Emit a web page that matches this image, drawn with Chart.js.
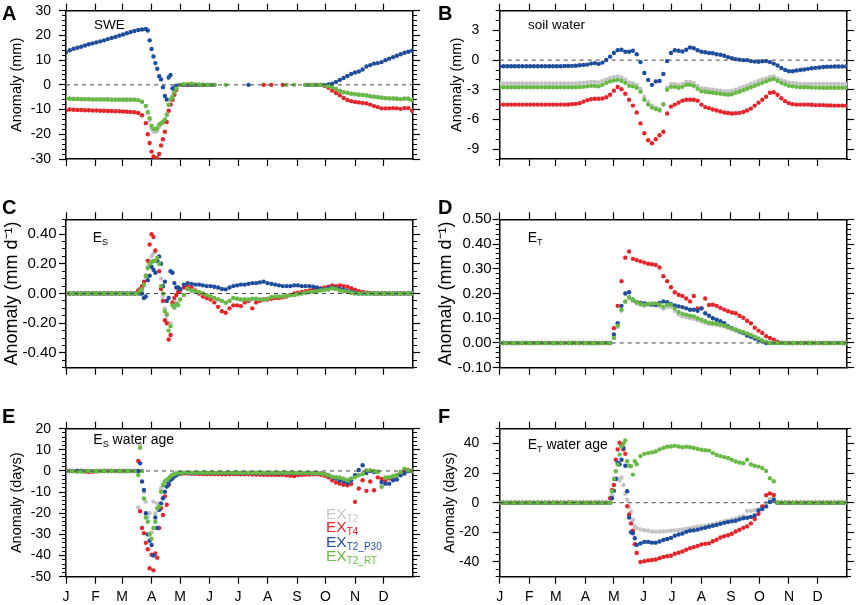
<!DOCTYPE html>
<html>
<head>
<meta charset="utf-8">
<script src="https://cdn.jsdelivr.net/npm/chart.js@4.4.1/dist/chart.umd.min.js"></script>
<style>
  html, body { margin: 0; padding: 0; background: #fff; }
  #wrap { position: relative; width: 858px; height: 605px; overflow: hidden;
          font-family: 'Liberation Sans', Arial, Helvetica, sans-serif; }
  canvas { position: absolute; }
  .lbl { position: absolute; line-height: 1; white-space: nowrap; color: #000; }
  .letter { font-weight: bold; font-size: 20px; }
  .ttl { font-size: 14px; }
  .ttl .sub { font-size: 9px; position: relative; top: 3px; }
  .leg { font-size: 15.5px; }
  .leg .sub { font-size: 10px; position: relative; top: 3px; }
</style>
</head>
<body>
<div id="wrap">
  <canvas id="cA" width="429" height="195" style="left:0;top:0"></canvas>
  <canvas id="cB" width="429" height="195" style="left:429px;top:0"></canvas>
  <canvas id="cC" width="429" height="205" style="left:0;top:195px"></canvas>
  <canvas id="cD" width="429" height="205" style="left:429px;top:195px"></canvas>
  <canvas id="cE" width="429" height="205" style="left:0;top:400px"></canvas>
  <canvas id="cF" width="429" height="205" style="left:429px;top:400px"></canvas>

  <div class="lbl letter" style="left:2px;top:3.4px">A</div>
  <div class="lbl letter" style="left:438px;top:3.4px">B</div>
  <div class="lbl letter" style="left:2px;top:197.4px">C</div>
  <div class="lbl letter" style="left:438px;top:197.4px">D</div>
  <div class="lbl letter" style="left:2px;top:405.7px">E</div>
  <div class="lbl letter" style="left:438px;top:406px">F</div>

  <div class="lbl ttl" style="left:94px;top:17.9px;font-size:13.5px">SWE</div>
  <div class="lbl ttl" style="left:528px;top:17.9px;font-size:13.5px">soil water</div>
  <div class="lbl ttl" style="left:92.7px;top:229.9px">E<span class="sub">S</span></div>
  <div class="lbl ttl" style="left:527.7px;top:229.9px">E<span class="sub">T</span></div>
  <div class="lbl ttl" style="left:93.3px;top:431.5px">E<span class="sub">S</span> water age</div>
  <div class="lbl ttl" style="left:527.7px;top:436.5px">E<span class="sub">T</span> water age</div>

  <div class="lbl leg" style="left:326px;top:505.9px;color:#c6c6c6">EX<span class="sub">T2</span></div>
  <div class="lbl leg" style="left:326px;top:519.2px;color:#e3262b">EX<span class="sub">T4</span></div>
  <div class="lbl leg" style="left:326px;top:533.6px;color:#1f4d9d">EX<span class="sub">T2_P30</span></div>
  <div class="lbl leg" style="left:326px;top:547.9px;color:#68b945">EX<span class="sub">T2_RT</span></div>
</div>

<script>
// day of year for every plotted value (one value every 4 days)
const days = [
  0, 4, 8, 12, 16, 20, 24, 28, 32, 36,
  40, 44, 48, 52, 56, 60, 64, 68, 72, 76,
  80, 84, 88, 92, 96, 100, 104, 108, 112, 116,
  120, 124, 128, 132, 136, 140, 144, 148, 152, 156,
  160, 164, 168, 172, 176, 180, 184, 188, 192, 196,
  200, 204, 208, 212, 216, 220, 224, 228, 232, 236,
  240, 244, 248, 252, 256, 260, 264, 268, 272, 276,
  280, 284, 288, 292, 296, 300, 304, 308, 312, 316,
  320, 324, 328, 332, 336, 340, 344, 348, 352, 356,
  360, 364
];
const monthStarts = [0, 31, 59, 90, 120, 151, 181, 212, 243, 273, 304, 334];
const monthLabels = ['J', 'F', 'M', 'A', 'M', 'J', 'J', 'A', 'S', 'O', 'N', 'D'];

// ---- A: SWE (mm)
const aTicks = [-30, -20, -10, 0, 10, 20, 30];
const aGray = [
  -5.4, -5.5, -5.6, -5.6, -5.7, -5.7, -5.7, -5.8, -5.8, -5.8,
  -5.8, -5.8, -5.9, -5.9, -5.9, -5.9, -5.9, -5.9, -6.0, -6.2,
  -6.9, -8.8, -14.2, -18.8, -18.5, -15.8, -14.2, -8.3, -5.0, -1.6,
  0, 0.2, 0.2, 0.4, 0.2, 0.1, 0.1, 0, 0, 0,
  null, null, null, null, null, null, null, null, null, null,
  null, null, null, null, null, null, null, null, null, null,
  null, null, null, 0, 0, 0, 0, 0, -0.2, -0.6,
  -1.0, -1.7, -2.4, -2.9, -3.2, -3.5, -3.7, -3.9, -4.0, -4.2,
  -4.5, -4.7, -4.9, -5.1, -5.3, -5.4, -5.4, -5.5, -5.7, -5.5,
  -5.5, -6.1
];
const aRed = [
  -10.3, -10.0, -10.1, -10.2, -10.2, -10.3, -10.3, -10.4, -10.4, -10.5,
  -10.5, -10.6, -10.6, -10.7, -10.7, -10.8, -10.9, -11.0, -11.1, -11.4,
  -12.3, -15.5, -23.5, -29.0, -29.7, -24.5, -19.0, -10.5, -6.0, -2.0,
  0, 0, 0, 0, 0, 0, 0, 0, 0, 0,
  null, null, null, null, null, null, null, null, null, null,
  null, null, 0, null, 0, null, null, 0, null, null,
  null, null, null, 0, 0, 0, 0, 0, -0.4, -1.2,
  -2.3, -3.3, -4.2, -5.3, -6.1, -6.6, -6.9, -7.1, -7.3, -7.5,
  -8.0, -8.6, -9.0, -9.5, -9.5, -9.5, -9.4, -9.5, -9.7, -9.4,
  -9.4, -10.5
];
const aBlue = [
  13.2, 14.0, 14.6, 15.0, 15.4, 15.9, 16.4, 16.8, 17.2, 17.6,
  18.0, 18.5, 19.0, 19.4, 19.9, 20.4, 20.9, 21.4, 21.8, 22.2,
  22.4, 22.6, 18.0, 11.5, 6.5, 2.2, -4.5, 3.0, -1.5, -0.3,
  0, 0, 0, 0, 0, 0, 0, 0, 0, 0,
  null, null, null, null, null, null, null, null, 0, null,
  null, null, null, null, null, null, null, null, null, null,
  null, null, null, 0, 0, 0, 0, 0, 0, 0.2,
  0.5, 1.2, 2.0, 2.8, 3.6, 4.4, 5.0, 5.4, 6.2, 7.4,
  8.0, 8.6, 8.8, 9.2, 10.0, 10.6, 11.2, 11.8, 12.4, 13.0,
  13.4, 13.8
];
const aGreen = [
  -5.5, -5.6, -5.7, -5.7, -5.8, -5.8, -5.8, -5.9, -5.9, -5.9,
  -5.9, -5.9, -6.0, -6.0, -6.0, -6.0, -6.0, -6.0, -6.0, -6.2,
  -6.8, -8.5, -13.5, -17.8, -17.5, -15.5, -14.0, -8.0, -4.8, -1.5,
  0, 0.3, 0.3, 0.5, 0.2, 0.2, 0.1, 0, 0, 0,
  null, null, 0, null, null, null, null, null, null, null,
  null, null, null, null, null, null, null, null, 0, null,
  0, null, null, 0, 0, 0, 0, 0, -0.2, -0.6,
  -1.0, -1.7, -2.5, -3.0, -3.3, -3.6, -3.8, -4.0, -4.1, -4.3,
  -4.6, -4.8, -5.0, -5.2, -5.4, -5.5, -5.5, -5.6, -5.8, -5.6,
  -5.6, -6.2
];
const aExtraDays = [86, 90, 94, 98, 102, 106, 110, 114];
const aGrayX = [-11.5, -17.5, -19, -17, -15.3, -12.5, -6, -3.2];
const aRedX = [-20, -27, -29.7, -28, -22, -15, -8, -4];
const aBlueX = [22.0, 14.5, 8.8, 3.5, -1.0, -5.9, 4.0, -1.2];
const aGreenX = [-11, -16.5, -18, -16, -15, -12, -5.9, -3];

// ---- B: soil water (mm)
const bTicks = [-9, -6, -3, 0, 3];
const bGray = [
  -2.35, -2.35, -2.35, -2.35, -2.35, -2.35, -2.35, -2.35, -2.35, -2.35,
  -2.35, -2.35, -2.35, -2.35, -2.35, -2.35, -2.35, -2.35, -2.35, -2.35,
  -2.35, -2.3, -2.3, -2.25, -2.2, -2.2, -2.25, -2.1, -1.95, -1.8,
  -1.7, -1.65, -1.75, -1.95, -2.25, -2.35, -2.5, -2.9, -3.7, -4.2,
  -4.6, -4.8, -4.95, -4.4, -2.8, -2.4, -2.4, -2.5, -2.4, -2.2,
  -2.2, -2.3, -2.6, -2.85, -2.9, -2.95, -3.0, -3.05, -3.1, -3.15,
  -3.15, -3.1, -3.0, -2.85, -2.7, -2.55, -2.4, -2.25, -2.1, -1.95,
  -1.85, -1.7, -1.65, -1.85, -2.0, -2.15, -2.25, -2.3, -2.35, -2.4,
  -2.4, -2.4, -2.4, -2.4, -2.4, -2.4, -2.4, -2.4, -2.4, -2.4,
  -2.4, -2.4
];
const bRed = [
  -4.5, -4.5, -4.5, -4.5, -4.5, -4.5, -4.5, -4.5, -4.5, -4.5,
  -4.5, -4.5, -4.5, -4.5, -4.5, -4.5, -4.5, -4.5, -4.48, -4.45,
  -4.42, -4.35, -4.2, -4.05, -3.95, -3.9, -3.9, -3.88, -3.75, -3.5,
  -3.1, -2.72, -2.95, -3.4, -4.0, -4.6, -5.3, -6.4, -7.4, -8.1,
  -8.4, -8.0, -7.6, -7.25, -5.4, -4.7, -4.5, -4.3, -4.1, -4.0,
  -4.0, -4.0, -4.1, -4.5, -4.75, -4.85, -5.0, -5.1, -5.2, -5.3,
  -5.35, -5.4, -5.38, -5.33, -5.25, -5.1, -4.9, -4.6, -4.3, -4.0,
  -3.7, -3.3, -3.25, -3.5, -3.85, -4.15, -4.35, -4.45, -4.5, -4.5,
  -4.5, -4.5, -4.52, -4.55, -4.55, -4.55, -4.58, -4.58, -4.6, -4.6,
  -4.6, -4.6
];
const bBlue = [
  -0.62, -0.62, -0.62, -0.62, -0.62, -0.62, -0.62, -0.62, -0.62, -0.62,
  -0.62, -0.62, -0.62, -0.62, -0.62, -0.62, -0.62, -0.60, -0.60, -0.58,
  -0.57, -0.52, -0.48, -0.45, -0.35, -0.30, -0.38, -0.25, 0.02, 0.35,
  0.72, 1.0, 1.05, 0.85, 0.85, 0.95, 0.6, -0.2, -1.3, -2.0,
  -2.5, -2.15, -2.1, -1.4, -0.1, 0.72, 1.0, 0.95, 0.87, 1.05,
  1.28, 1.2, 1.0, 0.85, 0.8, 0.72, 0.7, 0.6, 0.55, 0.45,
  0.3, 0.2, 0.1, 0.05, 0.0, 0.0, -0.1, -0.15, -0.17, -0.12,
  -0.1, -0.2, -0.35, -0.55, -0.8, -1.0, -1.12, -1.12, -1.05, -1.0,
  -0.95, -0.88, -0.82, -0.78, -0.74, -0.7, -0.67, -0.66, -0.65, -0.64,
  -0.64, -0.64
];
const bGreen = [
  -2.75, -2.75, -2.75, -2.75, -2.75, -2.75, -2.75, -2.75, -2.75, -2.75,
  -2.75, -2.75, -2.75, -2.75, -2.75, -2.75, -2.75, -2.75, -2.75, -2.75,
  -2.75, -2.72, -2.7, -2.65, -2.6, -2.62, -2.65, -2.5, -2.3, -2.15,
  -2.05, -2.0, -2.1, -2.3, -2.6, -2.65, -2.8, -3.2, -4.0, -4.5,
  -4.8, -4.95, -5.1, -4.5, -3.0, -2.7, -2.7, -2.8, -2.7, -2.5,
  -2.5, -2.6, -2.9, -3.15, -3.2, -3.25, -3.3, -3.35, -3.4, -3.45,
  -3.5, -3.45, -3.3, -3.2, -3.05, -2.9, -2.75, -2.6, -2.45, -2.3,
  -2.15, -2.0, -1.9, -2.1, -2.3, -2.45, -2.6, -2.65, -2.7, -2.75,
  -2.75, -2.75, -2.78, -2.78, -2.8, -2.8, -2.8, -2.8, -2.8, -2.8,
  -2.8, -2.8
];

// ---- C: soil evaporation (mm d-1)
const cTicks = [-0.4, -0.2, 0, 0.2, 0.4];
const cGray = [
  0, 0, 0, 0, 0, 0, 0, 0, 0, 0,
  0, 0, 0, 0, 0, 0, 0, 0, 0, 0,
  0.03, 0.11, 0.22, 0.27, 0.24, 0.1, -0.1, -0.2, -0.08, -0.06,
  -0.04, -0.01, 0.03, 0.02, 0.015, 0.01, 0.0, -0.01, -0.02, -0.03,
  -0.04, -0.05, -0.06, -0.05, -0.03, -0.035, -0.04, -0.04, -0.04, -0.035,
  -0.035, -0.04, -0.04, -0.035, -0.025, -0.02, -0.02, -0.02, -0.015, -0.012,
  -0.01, -0.005, 0.0, 0.005, 0.01, 0.012, 0.015, 0.02, 0.025, 0.027,
  0.035, 0.03, 0.02, 0.015, 0.01, 0.005, 0, 0, 0, 0,
  0, 0, 0, 0, 0, 0, 0, 0, 0, 0,
  0, 0
];
const cRed = [
  0, 0, 0, 0, 0, 0, 0, 0, 0, 0,
  0, 0, 0, 0, 0, 0, 0, 0, 0, 0.02,
  0.05, 0.12, 0.33, 0.38, 0.22, 0.03, -0.18, -0.31, -0.06, -0.01,
  0.02, 0.04, 0.05, 0.04, 0.02, 0.0, -0.02, -0.03, -0.04, -0.06,
  -0.09, -0.12, -0.13, -0.1, -0.08, -0.08, -0.085, -0.06, -0.05, -0.1,
  -0.06, -0.05, -0.04, -0.04, -0.035, -0.03, -0.03, -0.025, -0.02, -0.01,
  0.0, 0.005, 0.01, 0.015, 0.02, 0.025, 0.03, 0.035, 0.04, 0.045,
  0.055, 0.05, 0.055, 0.05, 0.045, 0.035, 0.025, 0.015, 0.01, 0.005,
  0.003, 0, 0, 0, 0, 0, 0, 0, 0, 0,
  0, 0
];
const cBlue = [
  0, 0, 0, 0, 0, 0, 0, 0, 0, 0,
  0, 0, 0, 0, 0, 0, 0, 0, 0, 0,
  0.0, -0.02, 0.12, 0.16, 0.22, 0.2, 0.08, -0.03, 0.14, 0.04,
  0.03, 0.06, 0.07, 0.065, 0.06, 0.06, 0.055, 0.05, 0.05, 0.045,
  0.04, 0.03, 0.028, 0.04, 0.05, 0.055, 0.06, 0.06, 0.065, 0.07,
  0.07, 0.075, 0.08, 0.07, 0.065, 0.06, 0.055, 0.05, 0.05, 0.05,
  0.055, 0.055, 0.05, 0.05, 0.05, 0.045, 0.04, 0.03, 0.028, 0.035,
  0.04, 0.035, 0.03, 0.025, 0.015, 0.01, 0.005, 0, 0, 0,
  0, 0, 0, 0, 0, 0, 0, 0, 0, 0,
  0, 0
];
const cGreen = [
  0, 0, 0, 0, 0, 0, 0, 0, 0, 0,
  0, 0, 0, 0, 0, 0, 0, 0, 0, 0,
  0.03, 0.12, 0.2, 0.22, 0.24, 0.05, -0.12, -0.25, -0.08, -0.07,
  -0.04, -0.01, 0.03, 0.02, 0.015, 0.01, 0.0, -0.01, -0.02, -0.03,
  -0.04, -0.05, -0.063, -0.05, -0.03, -0.035, -0.04, -0.04, -0.04, -0.035,
  -0.035, -0.04, -0.04, -0.035, -0.025, -0.02, -0.02, -0.02, -0.015, -0.012,
  -0.01, -0.005, 0.0, 0.005, 0.01, 0.012, 0.015, 0.02, 0.025, 0.027,
  0.035, 0.03, 0.02, 0.015, 0.01, 0.005, 0, 0, 0, 0,
  0, 0, 0, 0, 0, 0, 0, 0, 0, 0,
  0, 0
];
const cExtraDays = [78, 82, 86, 90, 94, 98, 102, 106, 110, 114, 118];
const cGrayX = [0.02, 0.05, 0.18, 0.25, 0.28, 0.2, -0.02, -0.15, -0.2, -0.1, -0.07];
const cRedX = [0.03, 0.08, 0.22, 0.40, 0.29, 0.15, -0.05, -0.2, -0.28, -0.03, 0.01];
const cBlueX = [0, -0.03, 0.09, 0.18, 0.14, 0.25, 0.05, -0.05, 0.15, 0.07, 0.04];
const cGreenX = [0.02, 0.06, 0.17, 0.21, 0.22, 0.2, 0.0, -0.14, -0.22, -0.09, -0.08];

// ---- D: transpiration (mm d-1)
const dTicks = [-0.1, 0, 0.1, 0.2, 0.3, 0.4, 0.5];
const dGray = [
  0, 0, 0, 0, 0, 0, 0, 0, 0, 0,
  0, 0, 0, 0, 0, 0, 0, 0, 0, 0,
  0, 0, 0, 0, 0, 0, 0, 0, 0, 0,
  0.02, 0.065, 0.13, 0.165, 0.18, 0.17, 0.16, 0.153, 0.15, 0.152,
  0.153, 0.152, 0.147, 0.138, 0.145, 0.145, 0.13, 0.115, 0.108, 0.104,
  0.1, 0.098, 0.092, 0.087, 0.082, 0.077, 0.075, 0.073, 0.07, 0.066,
  0.06, 0.055, 0.05, 0.045, 0.041, 0.035, 0.03, 0.023, 0.016, 0.009,
  0.003, 0, 0, 0, 0, 0, 0, 0, 0, 0,
  0, 0, 0, 0, 0, 0, 0, 0, 0, 0,
  0, 0
];
const dRed = [
  0, 0, 0, 0, 0, 0, 0, 0, 0, 0,
  0, 0, 0, 0, 0, 0, 0, 0, 0, 0,
  0, 0, 0, 0, 0, 0, 0, 0, 0, 0,
  0.06, 0.15, 0.25, 0.345, 0.37, 0.34, 0.335, 0.33, 0.325, 0.32,
  0.318, 0.315, 0.305, 0.27, 0.25, 0.225, 0.205, 0.195, 0.19, 0.18,
  0.168, 0.19, 0.14, 0.14, 0.18, 0.154, 0.155, 0.15, 0.142, 0.135,
  0.128, 0.123, 0.12, 0.11, 0.102, 0.09, 0.08, 0.062, 0.05, 0.04,
  0.027, 0.02, 0.013, 0.005, 0, 0, 0, 0, 0, 0,
  0, 0, 0, 0, 0, 0, 0, 0, 0, 0,
  0, 0
];
const dBlue = [
  0, 0, 0, 0, 0, 0, 0, 0, 0, 0,
  0, 0, 0, 0, 0, 0, 0, 0, 0, 0,
  0, 0, 0, 0, 0, 0, 0, 0, 0, 0,
  0.034, 0.08, 0.15, 0.2, 0.205, 0.175, 0.165, 0.162, 0.16, 0.158,
  0.156, 0.154, 0.162, 0.168, 0.165, 0.158, 0.152, 0.148, 0.145, 0.14,
  0.134, 0.134, 0.13, 0.14, 0.12, 0.11, 0.1, 0.094, 0.088, 0.08,
  0.068, 0.06, 0.054, 0.046, 0.04, 0.03, 0.025, 0.018, 0.012, 0.006,
  0, 0, 0, 0, 0, 0, 0, 0, 0, 0,
  0, 0, 0, 0, 0, 0, 0, 0, 0, 0,
  0, 0
];
const dGreen = [
  0, 0, 0, 0, 0, 0, 0, 0, 0, 0,
  0, 0, 0, 0, 0, 0, 0, 0, 0, 0,
  0, 0, 0, 0, 0, 0, 0, 0, 0, 0,
  0.02, 0.07, 0.134, 0.168, 0.185, 0.175, 0.165, 0.158, 0.154, 0.158,
  0.16, 0.16, 0.155, 0.147, 0.155, 0.155, 0.14, 0.125, 0.118, 0.114,
  0.11, 0.107, 0.1, 0.094, 0.088, 0.082, 0.08, 0.078, 0.075, 0.07,
  0.064, 0.058, 0.054, 0.048, 0.044, 0.038, 0.032, 0.025, 0.018, 0.01,
  0.004, 0, 0, 0, 0, 0, 0, 0, 0, 0,
  0, 0, 0, 0, 0, 0, 0, 0, 0, 0,
  0, 0
];

// ---- E: soil evaporation water age (days)
const eTicks = [-50, -40, -30, -20, -10, 0, 10, 20];
const eGray = [
  0, 0, 0, 0, 0, 0, 0, 0, 0, 0,
  0, 0, 0, 0, 0, 0, 0, 0, 0, -17.3,
  0, -14.5, -20, -14.5, -15.3, -8.2, -5, -3.5, -2, -1.2,
  -0.9, -0.8, -0.8, -0.8, -0.8, -0.8, -0.8, -0.8, -0.8, -0.8,
  -0.8, -0.8, -0.8, -0.8, -0.8, -0.8, -0.8, -0.8, -0.8, -0.8,
  -0.8, -0.8, -0.8, -0.8, -0.8, -0.8, -0.8, -0.8, -0.8, -0.8,
  -0.9, -0.9, -0.9, -0.9, -0.9, -1.0, -1.0, -1.2, -1.5, -2.0,
  -2.6, -2.8, -3.0, -3.5, -4.0, -3.4, -2.8, -1.8, -1.2, 0.2,
  0.2, 0.0, -0.4, -6.5, -3.0, -2.8, -2.3, -1.8, -0.5, 0.8,
  0.2, 0
];
const eRed = [
  0, 0, 0, 0, 0, -0.3, -0.5, -0.4, -0.2, 0,
  0, 0, 0, 0, 0, 0, 0, 0, 0, 4.7,
  -27, -34, -46, -47, -41, -17.6, -12, -6.6, -3.0, -1.6,
  -1.3, -1.2, -1.2, -1.3, -1.3, -1.4, -1.4, -1.5, -1.5, -1.5,
  -1.5, -1.6, -1.6, -1.6, -1.5, -1.5, -1.6, -1.6, -1.6, -1.7,
  -1.7, -1.7, -1.8, -1.8, -1.8, -1.8, -1.8, -1.8, -2.0, -2.2,
  -2.4, -1.9, -1.8, -1.7, -1.7, -1.6, -1.6, -1.8, -2.2, -3.0,
  -4.4, -5.5, -6.0, -6.5, -6.8, -6.2, -14.6, -8.3, -4.4, -9.4,
  -5.0, -9.1, -3.0, -3.8, -4.4, -3.5, -3.0, -2.0, -1.0, 0.0,
  0.5, 0
];
const eBlue = [
  0, 0, 0, 0, 0, 0, 0, 0, 0, 0,
  0, 0, 0, 0, 0, 0, 0, 0, 0, 0,
  -5, -20, -33, -40, -27, -15.3, -9.8, -6, -3.5, -2,
  -1.2, -1.0, -1.0, -1.0, -1.0, -1.0, -1.0, -1.0, -1.0, -1.0,
  -1.0, -1.0, -1.0, -1.0, -1.0, -1.0, -1.0, -1.0, -1.0, -1.0,
  -1.0, -1.0, -1.0, -1.0, -1.0, -1.0, -1.0, -1.0, -1.0, -1.0,
  -1.0, -1.0, -1.0, -1.0, -1.0, -1.0, -1.0, -1.2, -1.5, -2.0,
  -3.0, -3.6, -4.4, -5.0, -5.7, -4.4, -2.0, 0.5, 2.7, -1.0,
  0.0, -0.5, -0.3, -5.2, -6.0, -6.0, -4.4, -4.0, -2.0, -1.2,
  0.0, 0.0
];
const eGreen = [
  0, 0, 0, -0.4, -0.3, 0, 0, 0, 0, 0,
  0, 0, 0, 0, 0, 0, 0, 0, 0, -1.9,
  0, -22, -30, -27, -17.6, -9.8, -5, -3.5, -1.9, -1.1,
  -0.9, -0.8, -0.8, -0.8, -0.8, -0.8, -0.8, -0.8, -0.8, -0.8,
  -0.8, -0.8, -0.8, -0.8, -0.8, -0.8, -0.8, -0.8, -0.8, -0.8,
  -0.8, -0.8, -0.8, -0.8, -0.8, -0.8, -0.8, -0.8, -0.8, -0.8,
  -0.9, -0.9, -0.9, -0.9, -0.9, -1.0, -1.0, -1.2, -1.5, -2.0,
  -2.8, -3.0, -3.2, -3.8, -4.4, -3.6, -3.0, -2.0, -1.5, 0.3,
  0.3, 0.0, -0.5, -7.5, -3.2, -3.0, -2.5, -2.0, -0.5, 1.1,
  0.3, 0
];
const eExtraDays = [78, 82, 86, 90, 94, 98, 102, 106, 110, 114];
const eGrayX = [12.6, -10, -22, -29, -20, -18, -7, -4.2, -2.6, -1.6];
const eRedX = [-19, -29.4, -37, -39.6, -39, -27, -20.8, -16, -4.2, -2.0];
const eBlueX = [3.6, -9, -30, -35, -22, -18.4, -12.9, -7.4, -4.2, -2.5];
const eGreenX = [11, -13, -24, -32, -24, -16.8, -6.6, -4.2, -2.5, -1.5];

// ---- F: transpiration water age (days)
const fTicks = [-40, -20, 0, 20, 40];
const fGray = [
  0, 0, 0, 0, 0, 0, 0, 0, 0, 0,
  0, 0, 0, 0, 0, 0, 0, 0, 0, 0,
  0, 0, 0, 0, 0, 0, 0, 0, 0, 0,
  12, 16, 17, 6, -3, -11.5, -17, -18, -18.5, -19,
  -19.5, -19.7, -19.5, -19.5, -19.2, -19, -18.7, -18.4, -18, -17.6,
  -17.2, -16.6, -16.2, -15.9, -15.5, -15.1, -14.5, -13.8, -13.1, -12.5,
  -12, -11.3, -10.6, -9.8, -9, -5.5, -5.5, -5, -4.5, -2.3,
  0, 2.5, 3, 0, 0, 0, 0, 0, 0, 0,
  0, 0, 0, 0, 0, 0, 0, 0, 0, 0,
  0, 0
];
const fRed = [
  0, 0, 0, 0, 0, 0, 0, 0, 0, 0,
  0, 0, 0, 0, 0, 0, 0, 0, 0, 0,
  0, 0, 0, 0, 0, 0, 0, 0, 0, 3,
  12, 36, 39, 33, -8, -19, -34, -40, -39.5, -39,
  -38.7, -38.4, -37.5, -36.6, -36.2, -35.8, -34.5, -33.8, -33, -31.8,
  -30.7, -30, -29.3, -28.2, -27.8, -27.5, -26, -25, -23.5, -22.7,
  -22, -21, -19.5, -18.3, -17, -16, -14, -11, -7.5, -2.5,
  5, 6.3, 5.2, 0, 0, 0, 0, 0, 0, 0,
  0, 0, 0, 0, 0, 0, 0, 0, 0, 0,
  0, 0
];
const fBlue = [
  0, 0, 0, 0, 0, 0, 0, 0, 0, 0,
  0, 0, 0, 0, 0, 0, 0, 0, 0, 0,
  0, 0, 0, 0, 0, 0, 0, 0, 0, 0,
  8, 27, 29, 25, -10, -20.6, -28.5, -27.5, -26.5, -26.5,
  -27, -27, -26.2, -25.2, -24.5, -23.8, -22.3, -21.5, -20.8, -19.7,
  -19, -18.7, -18.2, -17.5, -16.9, -16.3, -15.6, -15, -14.3, -13.6,
  -13, -12.6, -12.2, -11.3, -10.5, -10.2, -9.6, -8.6, -5.2, -4.3,
  -2.5, 0.5, 2, 0, 0, 0, 0, 0, 0, 0,
  0, 0, 0, 0, 0, 0, 0, 0, 0, 0,
  0, 0
];
const fGreen = [
  0, 0, 0, 0, 0, 0, 0, 0, 0, 0,
  0, 0, 0, 0, 0, 0, 0, 0, 0, 0,
  0, 0, 0, 0, 0, 0, 0, 0, 0, 0,
  16, 25.8, 38, 42, 25, 19, 26, 31.5, 33, 33.5,
  34, 34.6, 36, 37, 37.8, 38, 38.4, 38, 37.5, 37.8,
  37.5, 37, 36.3, 35.8, 35.5, 35.2, 33.5, 32.3, 31.5, 30.8,
  30.2, 29, 27.8, 27.2, 26.7, 29, 25.8, 25, 24.4, 23.3,
  21.5, 16.5, 14.5, 0, 0, 0, 0, 0, 0, 0,
  0, 0, 0, 0, 0, 0, 0, 0, 0, 0,
  0, 0
];
const fExtraDays = [118, 122, 126, 130, 134, 138, 142];
const fGrayX = [5, 16.7, 15, 12, 2, -6, -16];
const fRedX = [8.6, 29, 40.5, 36, -2.3, -14, -28];
const fBlueX = [3, 16, 26, 37, 7.7, -20, -24];
const fGreenX = [7.7, 21.2, 32.5, 40, 28, 24.6, 28];

const FONT = "'Liberation Sans', Arial, Helvetica, sans-serif";
const GRAY = '#c3c3c3', RED = '#e3262b', BLUE = '#1f4d9d', GREEN = '#68b945';

function dots(vals, extraDays, extraVals, color) {
  const data = [];
  days.forEach((d, i) => { if (vals[i] !== null) data.push({ x: d, y: vals[i] }); });
  if (extraDays) extraDays.forEach((d, i) => data.push({ x: d, y: extraVals[i] }));
  return { data, pointRadius: 2.2, pointHoverRadius: 2.2, pointBorderWidth: 0,
           pointBackgroundColor: color, borderColor: color, showLine: false };
}

function minorValues(min, max, step) {
  const out = [];
  for (let v = min; v <= max + step / 2; v += step) out.push(Math.round(v * 1000) / 1000);
  return out;
}

function panel(p) {
  const tickFont = { family: FONT, size: p.tickSize };
  const gridMajor = { drawOnChartArea: false, tickLength: 7, tickWidth: 1.2, tickColor: '#000' };
  const gridMinor = { drawOnChartArea: false, tickLength: 4, tickWidth: 1, tickColor: '#000' };
  const frame = { display: true, color: '#000', width: 1.5 };
  const setTicks = vals => scale => { scale.ticks = vals.map(v => ({ value: v })); };
  // pin every axis box to a fixed size and drop the label overhang padding
  const fix = (key, v) => scale => {
    scale[key] = v;
    scale.paddingTop = 0; scale.paddingBottom = 0;
    scale.paddingLeft = 0; scale.paddingRight = 0;
  };
  const minors = minorValues(p.min, p.max, p.minor);
  const xBase = { type: 'linear', min: 0, max: 365, afterBuildTicks: setTicks(monthStarts),
                  grid: gridMajor, border: frame };
  const yBase = { type: 'linear', min: p.min, max: p.max };
  const [g, b, r, k] = p.series;
  const [gx, bx, rx, kx] = p.extras || [];

  new Chart(document.getElementById(p.id), {
    type: 'scatter',
    data: {
      datasets: [
        { data: [{ x: 0, y: 0 }, { x: 365, y: 0 }], showLine: true, borderColor: '#444',
          borderWidth: 1, borderDash: [4, 4], pointRadius: 0 },
        dots(g, p.extraDays, gx, GREEN),
        dots(b, p.extraDays, bx, BLUE),
        dots(r, p.extraDays, rx, RED),
        dots(k, p.extraDays, kx, GRAY)
      ]
    },
    options: {
      responsive: false,
      animation: false,
      events: [],
      layout: { padding: 0 },
      plugins: { legend: { display: false }, tooltip: { enabled: false } },
      scales: {
        x: { ...xBase, position: 'bottom', afterFit: fix('height', p.bottom),
             ticks: { display: p.months, color: '#000', font: { family: FONT, size: 14 },
                      autoSkip: false, maxRotation: 0, padding: 5,
                      callback: (v, i) => monthLabels[i] } },
        x2: { ...xBase, position: 'top', afterFit: fix('height', p.top), ticks: { display: false } },
        y: { ...yBase, position: 'left', weight: 1, afterBuildTicks: setTicks(p.major),
             afterFit: fix('width', p.left), grid: gridMajor, border: frame,
             ticks: { color: '#000', font: tickFont, autoSkip: false, padding: p.labelPad,
                      callback: v => p.fmt(v) },
             title: { display: true, text: p.title, color: '#000',
                      font: { family: FONT, size: p.titleSize },
                      padding: { top: p.titlePad, bottom: 0 } } },
        yMinor: { ...yBase, position: 'left', weight: 0, afterBuildTicks: setTicks(minors),
                  afterFit: fix('width', 0), grid: gridMinor, border: { display: false },
                  ticks: { display: false } },
        y2: { ...yBase, position: 'right', weight: 1, afterBuildTicks: setTicks(p.major),
              afterFit: fix('width', p.right), grid: gridMajor, border: frame,
              ticks: { display: false } },
        y2Minor: { ...yBase, position: 'right', weight: 0, afterBuildTicks: setTicks(minors),
                   afterFit: fix('width', 0), grid: gridMinor, border: { display: false },
                   ticks: { display: false } }
      }
    }
  });
}

const intFmt = v => String(v);
const decFmt = v => Number(v).toFixed(2);

panel({ id: 'cA', min: -30, max: 30, minor: 2, major: aTicks, fmt: intFmt, tickSize: 14, labelPad: 8,
        title: 'Anomaly (mm)', titleSize: 14.5, titlePad: 8.3,
        left: 66, right: 16, top: 10.7, bottom: 36, months: false,
        series: [aGreen, aBlue, aRed, aGray], extraDays: aExtraDays,
        extras: [aGreenX, aBlueX, aRedX, aGrayX] });
panel({ id: 'cB', min: -10, max: 5, minor: 1, major: bTicks, fmt: intFmt, tickSize: 14, labelPad: 13.5,
        title: 'Anomaly (mm)', titleSize: 14.5, titlePad: 19.3,
        left: 70.7, right: 11, top: 10.7, bottom: 36, months: false,
        series: [bGreen, bBlue, bRed, bGray], extraDays: null, extras: null });
panel({ id: 'cC', min: -0.5, max: 0.5, minor: 0.05, major: cTicks, fmt: decFmt, tickSize: 15, labelPad: 2.3,
        title: 'Anomaly (mm d\u207B\u00B9)', titleSize: 18, titlePad: 1.2,
        left: 66, right: 16, top: 24.3, bottom: 32.3, months: false,
        series: [cGreen, cBlue, cRed, cGray], extraDays: cExtraDays,
        extras: [cGreenX, cBlueX, cRedX, cGrayX] });
panel({ id: 'cD', min: -0.1, max: 0.5, minor: 0.02, major: dTicks, fmt: decFmt, tickSize: 15, labelPad: 1,
        title: 'Anomaly (mm d\u207B\u00B9)', titleSize: 18, titlePad: 6.2,
        left: 70.7, right: 11, top: 24.3, bottom: 32.3, months: false,
        series: [dGreen, dBlue, dRed, dGray], extraDays: null, extras: null });
panel({ id: 'cE', min: -50, max: 20, minor: 2, major: eTicks, fmt: intFmt, tickSize: 14, labelPad: 8,
        title: 'Anomaly (days)', titleSize: 14.5, titlePad: 8.3,
        left: 66, right: 16, top: 28.7, bottom: 28.3, months: true,
        series: [eGreen, eBlue, eRed, eGray], extraDays: eExtraDays,
        extras: [eGreenX, eBlueX, eRedX, eGrayX] });
panel({ id: 'cF', min: -50, max: 50, minor: 5, major: fTicks, fmt: intFmt, tickSize: 14, labelPad: 13.5,
        title: 'Anomaly (days)', titleSize: 14.5, titlePad: 12.3,
        left: 70.7, right: 11, top: 28.7, bottom: 28.3, months: true,
        series: [fGreen, fBlue, fRed, fGray], extraDays: fExtraDays,
        extras: [fGreenX, fBlueX, fRedX, fGrayX] });
</script>
</body>
</html>
